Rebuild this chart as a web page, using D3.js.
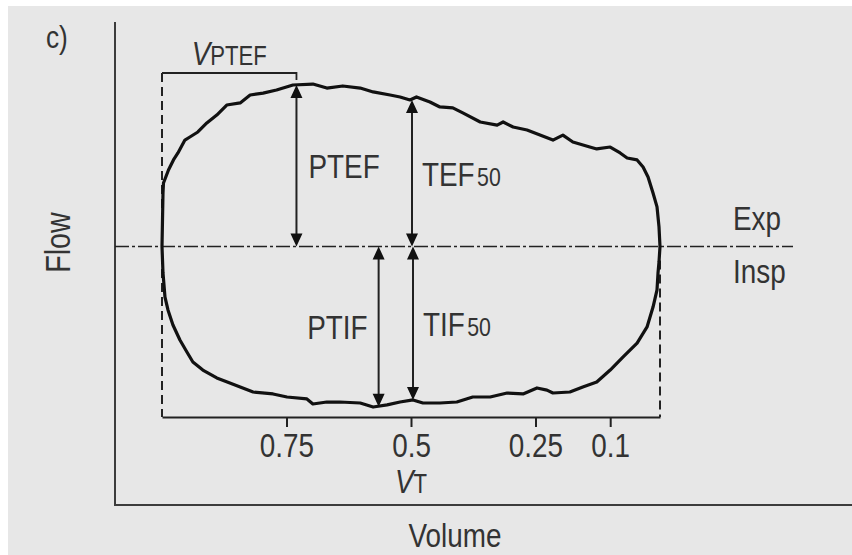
<!DOCTYPE html>
<html>
<head>
<meta charset="utf-8">
<script src="https://cdn.jsdelivr.net/npm/d3@7"></script>
<style>
  html, body { margin: 0; padding: 0; background: #ffffff; }
  svg { display: block; }
  text { font-family: "Liberation Sans", Arial, sans-serif; fill: #333333; }
</style>
</head>
<body>
<svg id="chart" width="852" height="555"></svg>
<script>
// ---------- data ----------
// Volume expressed as fraction of tidal volume (VT) remaining; flow normalised to PTEF
const volumeTicks = [0.75, 0.5, 0.25, 0.1];
const volumeTickLabels = ["0.75", "0.5", "0.25", "0.1"];

// Expiratory limb (top), from start of expiration (1.0) to end (0)
const expVolume = [1.000, 0.999, 0.998, 0.997, 0.987, 0.977, 0.968, 0.954, 0.944, 0.928,
  0.910, 0.890, 0.870, 0.843, 0.823, 0.797, 0.770, 0.737, 0.697, 0.669,
  0.637, 0.602, 0.576, 0.542, 0.522, 0.502, 0.489, 0.462, 0.442, 0.416,
  0.396, 0.361, 0.327, 0.315, 0.295, 0.267, 0.241, 0.215, 0.195, 0.175,
  0.141, 0.127, 0.100, 0.080, 0.066, 0.046, 0.034, 0.024, 0.014, 0.006,
  0.002, 0.000];
const expFlow = [0.000, 0.164, 0.331, 0.393, 0.474, 0.536, 0.579, 0.659, 0.678, 0.709,
  0.765, 0.814, 0.876, 0.889, 0.938, 0.950, 0.969, 1.000, 1.006, 0.981,
  0.994, 0.981, 0.957, 0.938, 0.926, 0.907, 0.926, 0.895, 0.864, 0.858,
  0.827, 0.771, 0.752, 0.771, 0.740, 0.721, 0.690, 0.659, 0.690, 0.647,
  0.616, 0.604, 0.616, 0.579, 0.548, 0.536, 0.492, 0.430, 0.331, 0.245,
  0.121, 0.000];

// Inspiratory limb (bottom), from end of expiration (0) back to 1.0
const inspVolume = [0.000, 0.002, 0.004, 0.006, 0.014, 0.026, 0.046, 0.074, 0.100, 0.127,
  0.155, 0.181, 0.215, 0.227, 0.247, 0.275, 0.307, 0.341, 0.376, 0.408,
  0.442, 0.476, 0.496, 0.522, 0.548, 0.576, 0.602, 0.643, 0.669, 0.697,
  0.709, 0.749, 0.777, 0.817, 0.843, 0.869, 0.890, 0.918, 0.938, 0.950,
  0.964, 0.978, 0.988, 0.994, 0.998, 1.000];
const inspFlow = [0.000, -0.096, -0.164, -0.269, -0.375, -0.498, -0.598, -0.684, -0.765, -0.839,
  -0.870, -0.901, -0.907, -0.889, -0.876, -0.913, -0.907, -0.932, -0.932, -0.963,
  -0.969, -0.969, -0.950, -0.963, -0.981, -0.994, -0.969, -0.963, -0.963, -0.975,
  -0.944, -0.932, -0.913, -0.901, -0.870, -0.839, -0.814, -0.765, -0.715, -0.653,
  -0.579, -0.486, -0.393, -0.313, -0.164, 0.000];

// Measured indices (arrows)
const markerNames = ["PTEF", "TEF", "PTIF", "TIF"];
const markerSubs = ["", "50", "", "50"];
const markerVolume = [0.730, 0.498, 0.565, 0.496];
const markerFlow = [1.000, 0.907, -0.992, -0.950];

// ---------- layout ----------
const svg = d3.select("#chart");
const W = 852, H = 555;
const axisX = 115, axisTop = 22, axisBottom = 505;
const NARROW = 0.82;

svg.append("rect").attr("x", 8).attr("y", 6).attr("width", W - 8).attr("height", H - 6).attr("fill", "#e7e7e7");

const x = d3.scaleLinear().domain([1, 0]).range([162, 660]);
const y = d3.scaleLinear().domain([0, 1]).range([246.5, 85]);
const bracketY = 417;

// condensed text helper
function ntext(px, py, anchor, size, rotate) {
  const g = svg.append("g").attr("transform",
    `translate(${px},${py})` + (rotate ? ` rotate(${rotate})` : "") + ` scale(${NARROW},1)`);
  return g.append("text").attr("x", 0).attr("y", 0).attr("text-anchor", anchor || "start").attr("font-size", size || 34);
}

// outer axes (Flow / Volume)
svg.append("line").attr("x1", axisX).attr("x2", axisX).attr("y1", axisTop).attr("y2", axisBottom + 1)
  .attr("stroke", "#3c3c3c").attr("stroke-width", 2);
svg.append("line").attr("x1", axisX - 1).attr("x2", W).attr("y1", axisBottom).attr("y2", axisBottom)
  .attr("stroke", "#3c3c3c").attr("stroke-width", 2);

// zero-flow dash-dot line
svg.append("line").attr("x1", axisX).attr("x2", 793).attr("y1", y(0)).attr("y2", y(0))
  .attr("stroke", "#222").attr("stroke-width", 1.6).attr("stroke-dasharray", "14,3,3,3");

// dashed verticals marking VT
const ptefY = y(markerFlow[0]);
svg.append("line").attr("x1", x(1)).attr("x2", x(1)).attr("y1", ptefY - 12).attr("y2", bracketY)
  .attr("stroke", "#222").attr("stroke-width", 2).attr("stroke-dasharray", "9,5");
svg.append("line").attr("x1", x(0)).attr("x2", x(0)).attr("y1", y(0)).attr("y2", bracketY)
  .attr("stroke", "#222").attr("stroke-width", 2).attr("stroke-dasharray", "9,5");

// VT axis (bracket bottom)
const vAxis = d3.axisBottom(x).tickValues(volumeTicks).tickSize(10).tickSizeOuter(0).tickPadding(6)
  .tickFormat((d, i) => volumeTickLabels[i]);
const gAx = svg.append("g").attr("transform", `translate(0,${bracketY})`).call(vAxis);
gAx.select(".domain").attr("stroke", "#222").attr("stroke-width", 2);
gAx.selectAll(".tick line").attr("stroke", "#222").attr("stroke-width", 2);
gAx.selectAll(".tick text").attr("font-size", 34).attr("fill", "#333")
  .attr("font-family", '"Liberation Sans", Arial, sans-serif')
  .attr("transform", `scale(${NARROW},1)`);

// VPTEF bracket
svg.append("path")
  .attr("d", `M${x(1)},${ptefY - 12} H${x(markerVolume[0])} V${ptefY - 5}`)
  .attr("fill", "none").attr("stroke", "#222").attr("stroke-width", 1.8);

// loop
const expPts = expVolume.map((v, i) => [x(v), y(expFlow[i])]);
const inspPts = inspVolume.map((v, i) => [x(v), y(inspFlow[i])]);
const line = d3.line().curve(d3.curveLinear);
svg.append("path").attr("d", line(expPts.concat(inspPts)) + "Z")
  .attr("fill", "none").attr("stroke", "#111").attr("stroke-width", 3.2).attr("stroke-linejoin", "round");

// arrows
function head(px, py, dir) { // dir: -1 pointing up, +1 pointing down
  const h = 13, w = 6;
  return `M${px},${py} L${px - w},${py - dir * h} L${px + w},${py - dir * h} Z`;
}
markerVolume.forEach((v, i) => {
  const ax = x(v), y0 = y(0), y1 = y(markerFlow[i]);
  const top = Math.min(y0, y1), bot = Math.max(y0, y1);
  svg.append("line").attr("x1", ax).attr("x2", ax).attr("y1", top + 6).attr("y2", bot - 6)
    .attr("stroke", "#222").attr("stroke-width", 2);
  svg.append("path").attr("d", head(ax, top, -1) + head(ax, bot, 1)).attr("fill", "#111");
  const mid = (top + bot) / 2;
  let t;
  if (i === 2) t = ntext(ax - 11, mid + 12.5, "end", 34);
  else t = ntext(ax + (i === 0 ? 12 : 10), mid + 12.5, "start", 34);
  t.append("tspan").text(markerNames[i]);
  if (markerSubs[i]) t.append("tspan").attr("font-size", 26).attr("dx", 3).text(markerSubs[i]);
});

// VPTEF label
const vp = ntext((x(1) + x(markerVolume[0])) / 2, 65, "middle", 34);
vp.append("tspan").attr("font-style", "italic").text("V");
vp.append("tspan").attr("font-size", 27).text("PTEF");

// VT label
const vt = ntext(x(0.5), 493, "middle", 34);
vt.append("tspan").attr("font-style", "italic").text("V");
vt.append("tspan").attr("font-size", 27).text("T");

// Exp / Insp
ntext(733, 230, "start", 34).text("Exp");
ntext(733, 283, "start", 34).text("Insp");

// axis titles
ntext(70, 242.5, "middle", 35, -90).text("Flow");
ntext(455, 547, "middle", 34).text("Volume");

// panel label
ntext(46, 48, "start", 32).text("c)");
</script>
</body>
</html>
